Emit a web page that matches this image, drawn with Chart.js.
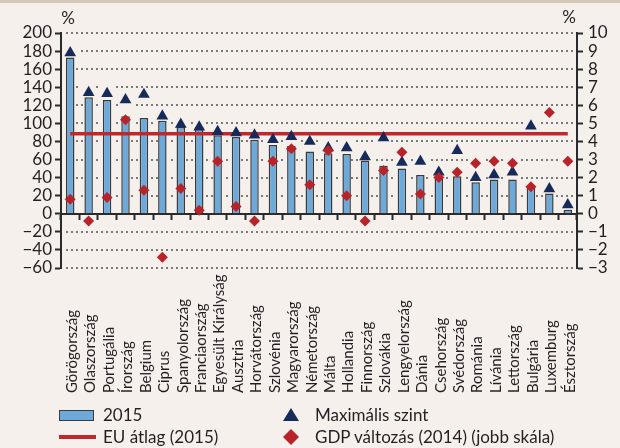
<!DOCTYPE html>
<html lang="hu">
<head>
<meta charset="utf-8">
<title>Államadósság</title>
<script src="https://cdn.jsdelivr.net/npm/chart.js@4/dist/chart.umd.min.js"></script>
<style>
  html, body { margin: 0; padding: 0; background: #f6f0ed; }
  #wrap { position: relative; width: 620px; height: 448px; overflow: hidden; background: #f6f0ed; }
  #topbar { position: absolute; left: 0; top: 0; width: 620px; height: 3px; background: #d8c7b6; }
  #c { position: absolute; left: 0; top: 0; }
  #legend { position: absolute; left: 0; top: 0; width: 620px; height: 448px; pointer-events: none;
            font-family: Lato, 'Open Sans', sans-serif; font-size: 17px; color: #231f20; }
  .lg-mark { position: absolute; }
  .lg-text { position: absolute; line-height: 20px; white-space: nowrap; }
</style>
</head>
<body>
<div id="wrap">
  <div id="topbar"></div>
  <canvas id="c" width="620" height="448"></canvas>
  <div id="legend"></div>
</div>
<script>
'use strict';

// ── data ──
const countries = ['Görögország', 'Olaszország', 'Portugália', 'Írország', 'Belgium', 'Ciprus',
  'Spanyolország', 'Franciaország', 'Egyesült Királyság', 'Ausztria', 'Horvátország', 'Szlovénia',
  'Magyarország', 'Németország', 'Málta', 'Hollandia', 'Finnország', 'Szlovákia', 'Lengyelország',
  'Dánia', 'Csehország', 'Svédország', 'Románia', 'Lívánia', 'Lettország', 'Bulgária', 'Luxemburg',
  'Észtország'];
// adósságráta 2015 (% of GDP, left axis)
const debt2015 = [173, 129, 126, 108, 106, 103, 96, 96, 87, 85, 82, 76, 75, 69, 67, 66, 59, 53, 50,
  43, 40, 41.5, 35, 38, 38, 29, 22.5, 4.5];
// maximális szint (left axis)
const debtMax = [178, 134, 133, 126, 132, 108, 99, 96, 91, 89.5, 87, 82, 85.5, 80, 73, 73, 63, 84,
  57, 58, 46, 70, 40, 43, 46, 97, 27.5, 10];
// EU átlag 2015 (left axis)
const euAvg = 88.5;
// GDP változás 2014 (%, right axis)
const gdp2014 = [0.8, -0.4, 0.9, 5.2, 1.3, -2.4, 1.4, 0.2, 2.9, 0.4, -0.4, 2.9, 3.6, 1.6, 3.5, 1.0,
  -0.4, 2.4, 3.4, 1.1, 2.0, 2.3, 2.8, 2.9, 2.8, 1.5, 5.6, 2.9];

const leftTicks  = { min: -60, max: 200, step: 20 };
const rightTicks = { min: -3,  max: 10,  step: 1 };

const INK = '#231f20';
const FONT = 'Lato, "Open Sans", sans-serif';
const fmt = v => (v < 0 ? '\u2212' + Math.abs(v) : String(v));

// dotted horizontal guides at every left-axis tick, skipping the bits under bars and markers
const dottedGrid = {
  id: 'dottedGrid',
  afterDraw(chart) {
    const { ctx, chartArea, scales: { y } } = chart;
    const bars = chart.getDatasetMeta(0).data.map(b => ({
      l: b.x - b.width / 2 - 1, r: b.x + b.width / 2 + 1,
      t: Math.min(b.y, b.base) - 1, btm: Math.max(b.y, b.base) + 1
    }));
    const pts = [2, 3].flatMap(i => chart.getDatasetMeta(i).data.map(p => ({ x: p.x, y: p.y })));
    const left = Math.round(chartArea.left) + 5;
    const right = Math.round(chartArea.right) - 3;
    ctx.save();
    ctx.globalAlpha = 1;
    ctx.fillStyle = '#7a7a7a';
    y.ticks.forEach(t => {
      if (t.value === 0) return;
      const py = Math.round(y.getPixelForValue(t.value));
      for (let px = left; px < right; px += 5) {
        const cx = px + 1;
        if (bars.some(b => cx >= b.l && cx <= b.r && py >= b.t && py <= b.btm)) continue;
        if (pts.some(p => Math.abs(cx - p.x) < 7 && Math.abs(py - p.y) < 7)) continue;
        ctx.fillRect(px, py - 1, 2, 2);
      }
    });
    ctx.restore();
  }
};

// country names: rotated, aligned at their start (bottom) like the source chart
const countryLabels = {
  id: 'countryLabels',
  afterDraw(chart) {
    const { ctx, scales: { x } } = chart;
    ctx.save();
    ctx.font = '15px ' + FONT;
    ctx.fillStyle = INK;
    ctx.textAlign = 'left';
    ctx.textBaseline = 'middle';
    countries.forEach((name, i) => {
      ctx.save();
      ctx.translate(x.getPixelForValue(i) + 2, 393);
      ctx.rotate(-Math.PI / 2);
      ctx.fillText(name, 0, 0);
      ctx.restore();
    });
    ctx.restore();
  }
};

// "%" unit over each value axis
const unitLabels = {
  id: 'unitLabels',
  afterDraw(chart) {
    const { ctx, chartArea } = chart;
    ctx.save();
    ctx.font = '17px ' + FONT;
    ctx.fillStyle = INK;
    ctx.textAlign = 'center';
    ctx.textBaseline = 'middle';
    ctx.fillText('%', chartArea.left + 7, chartArea.top - 14);
    ctx.fillText('%', chartArea.right - 8, chartArea.top - 15);
    ctx.restore();
  }
};

const chart = new Chart(document.getElementById('c'), {
  data: {
    labels: countries,
    datasets: [
      { type: 'bar', label: '2015', data: debt2015, yAxisID: 'y', order: 4,
        backgroundColor: '#6eaad9', borderColor: '#3a3a3a', borderWidth: 1.5,
        barPercentage: 0.46, categoryPercentage: 1 },
      { type: 'line', label: 'EU átlag (2015)', data: countries.map(() => euAvg), yAxisID: 'y', order: 3,
        borderColor: '#c1272d', borderWidth: 3.5, pointRadius: 0, fill: false },
      { type: 'line', label: 'Maximális szint', data: debtMax, yAxisID: 'y', order: 2, showLine: false,
        pointStyle: 'triangle', pointRadius: 6.8, backgroundColor: '#172b5a', borderColor: '#172b5a', borderWidth: 0 },
      { type: 'line', label: 'GDP változás (2014) (jobb skála)', data: gdp2014, yAxisID: 'y2', order: 1, showLine: false,
        pointStyle: 'rectRot', pointRadius: 5.5, backgroundColor: '#b8232a', borderColor: '#b8232a', borderWidth: 0 }
    ]
  },
  options: {
    responsive: false,
    animation: false,
    layout: { padding: { top: 33, bottom: 180, left: 0, right: 0 } },
    plugins: { legend: { display: false }, tooltip: { enabled: false } },
    scales: {
      x: {
        position: { y: 0 },
        offset: true,
        ticks: { display: false },
        grid: { display: true, offset: true, drawOnChartArea: false, drawTicks: true, tickLength: 5,
                tickColor: '#2a2a2a', tickWidth: 2 },
        border: { display: true, color: '#2a2a2a', width: 2 }
      },
      y: {
        position: 'left',
        min: leftTicks.min, max: leftTicks.max,
        afterFit(scale) { scale.width = 61; },
        ticks: { stepSize: leftTicks.step, autoSkip: false, color: INK, padding: 3,
                 font: { family: FONT, size: 17 }, callback: fmt },
        grid: { drawOnChartArea: false, drawTicks: true, tickLength: 6, tickColor: '#2a2a2a', tickWidth: 2 },
        border: { display: true, color: '#2a2a2a', width: 2 }
      },
      y2: {
        position: 'right',
        min: rightTicks.min, max: rightTicks.max,
        afterFit(scale) { scale.width = 43; },
        ticks: { stepSize: rightTicks.step, autoSkip: false, color: INK, padding: 5,
                 font: { family: FONT, size: 17 }, callback: fmt },
        grid: { drawOnChartArea: false, drawTicks: true, tickLength: 6, tickColor: '#2a2a2a', tickWidth: 2 },
        border: { display: true, color: '#2a2a2a', width: 2 }
      }
    }
  },
  plugins: [dottedGrid, countryLabels, unitLabels]
});

// ── HTML legend, two columns, built from the datasets ──
(function buildLegend() {
  const lg = document.getElementById('legend');
  const ds = chart.data.datasets;
  const slots = [
    { d: ds[0], mx: 59,  tx: 103, cy: 415 },
    { d: ds[2], mx: 283, tx: 315, cy: 415 },
    { d: ds[1], mx: 59,  tx: 103, cy: 437 },
    { d: ds[3], mx: 283, tx: 315, cy: 437 }
  ];
  slots.forEach(s => {
    let mark = '';
    if (s.d.type === 'bar') {
      mark = `<div class="lg-mark" style="left:${s.mx}px;top:${s.cy - 5}px;width:33px;height:9px;
        background:${s.d.backgroundColor};border:1.5px solid ${s.d.borderColor};"></div>`;
    } else if (s.d.pointStyle === 'triangle') {
      mark = `<svg class="lg-mark" style="left:${s.mx}px;top:${s.cy - 7}px" width="16" height="13">
        <polygon points="8,0 16,13 0,13" fill="${s.d.backgroundColor}"/></svg>`;
    } else if (s.d.pointStyle === 'rectRot') {
      mark = `<svg class="lg-mark" style="left:${s.mx}px;top:${s.cy - 8}px" width="16" height="16">
        <polygon points="8,0 16,8 8,16 0,8" fill="${s.d.backgroundColor}"/></svg>`;
    } else {
      mark = `<div class="lg-mark" style="left:${s.mx}px;top:${s.cy - 2}px;width:37px;height:4px;
        background:${s.d.borderColor};"></div>`;
    }
    lg.insertAdjacentHTML('beforeend', mark +
      `<div class="lg-text" style="left:${s.tx}px;top:${s.cy - 10}px">${s.d.label}</div>`);
  });
})();
</script>
</body>
</html>
